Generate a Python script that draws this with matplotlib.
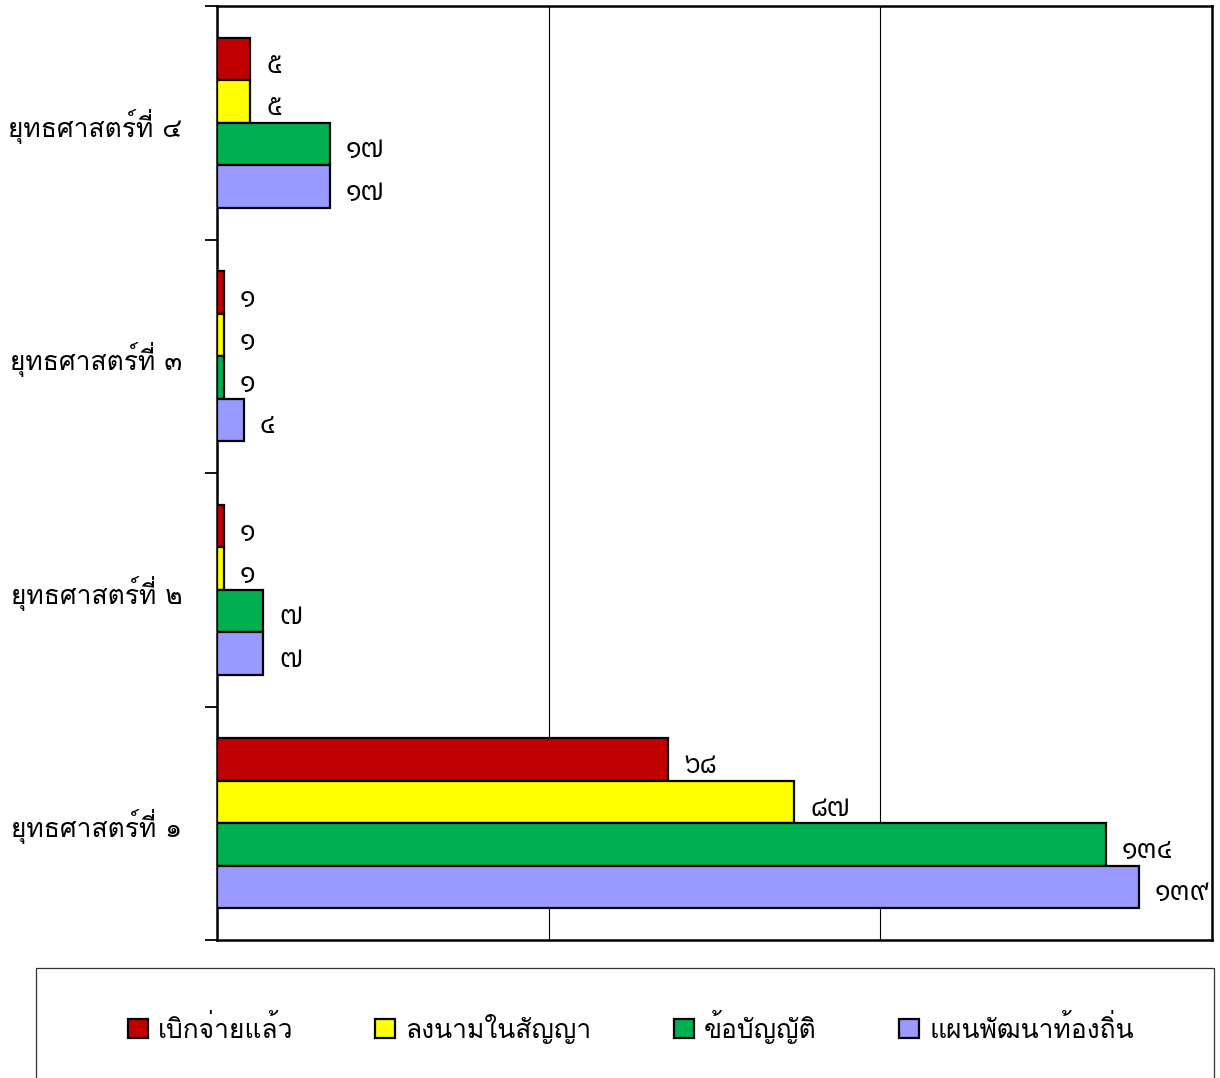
import numpy as np
import matplotlib
matplotlib.use("Agg")
import matplotlib.pyplot as plt
from matplotlib.patches import Rectangle

plt.rcParams['font.family'] = ['Loma', 'DejaVu Sans']

categories = ['ยุทธศาสตร์ที่ ๑', 'ยุทธศาสตร์ที่ ๒', 'ยุทธศาสตร์ที่ ๓', 'ยุทธศาสตร์ที่ ๔']
series_names = ['เบิกจ่ายแล้ว', 'ลงนามในสัญญา', 'ข้อบัญญัติ', 'แผนพัฒนาท้องถิ่น']
disbursed = [68, 1, 1, 5]
contracted = [87, 1, 1, 5]
ordinance = [134, 7, 1, 17]
local_plan = [139, 7, 4, 17]
colors = ['#C00000', '#FFFF00', '#00B050', '#9999FF']

thai_digits = str.maketrans('0123456789', '๐๑๒๓๔๕๖๗๘๙')

fig = plt.figure(figsize=(12.2, 10.78), dpi=100)
ax = fig.add_axes([217 / 1220, 1 - 940 / 1078, (1212 - 217) / 1220, (940 - 6) / 1078])

y = np.arange(len(categories))
h = 0.182
offsets = [1.5, 0.5, -0.5, -1.5]
all_series = [disbursed, contracted, ordinance, local_plan]
handles = []
for vals, name, col, off in zip(all_series, series_names, colors, offsets):
    bars = ax.barh(y + off * h, vals, height=h, color=col, edgecolor='black',
                   linewidth=1.6, label=name, zorder=3)
    handles.append(bars)
    for b, v in zip(bars, vals):
        # digits carry no marks, so the thin loopless face is fine here
        ax.annotate(str(v).translate(thai_digits),
                    xy=(b.get_width(), b.get_y() + b.get_height() / 2),
                    xytext=(16, -6), textcoords='offset pixels',
                    va='center', ha='left', fontsize=20,
                    family=['IBM Plex Sans Thai', 'DejaVu Sans'], weight='normal',
                    annotation_clip=False)

ax.set_xlim(0, 150)
ax.set_ylim(-0.5, 3.5)
ax.set_xticks([50, 100])
ax.tick_params(axis='x', length=0, labelbottom=False)
ax.grid(axis='x', color='black', linewidth=0.8, zorder=1)

ax.set_yticks(y)
ax.set_yticklabels(categories, fontsize=19)
ax.tick_params(axis='y', which='major', length=0, pad=25)
ax.set_yticks(np.arange(-0.5, 4.0, 1.0), minor=True)
ax.tick_params(axis='y', which='minor', length=8.5, width=1.3, direction='out')
for s in ax.spines.values():
    s.set_linewidth(1.8)

# legend box
fig.patches.append(Rectangle((36 / 1220, -0.01), (1214 - 36) / 1220, 0.01 + 1 - 968 / 1078,
                             transform=fig.transFigure, fill=False,
                             edgecolor='#333333', linewidth=0.9))
fig.legend(handles=handles, loc='center', bbox_to_anchor=(0.517, 1 - 1027 / 1078),
           ncol=4, frameon=False, fontsize=19, handlelength=0.75, handleheight=0.75,
           handletextpad=0.4, columnspacing=3.1)

fig.savefig('out.png')
